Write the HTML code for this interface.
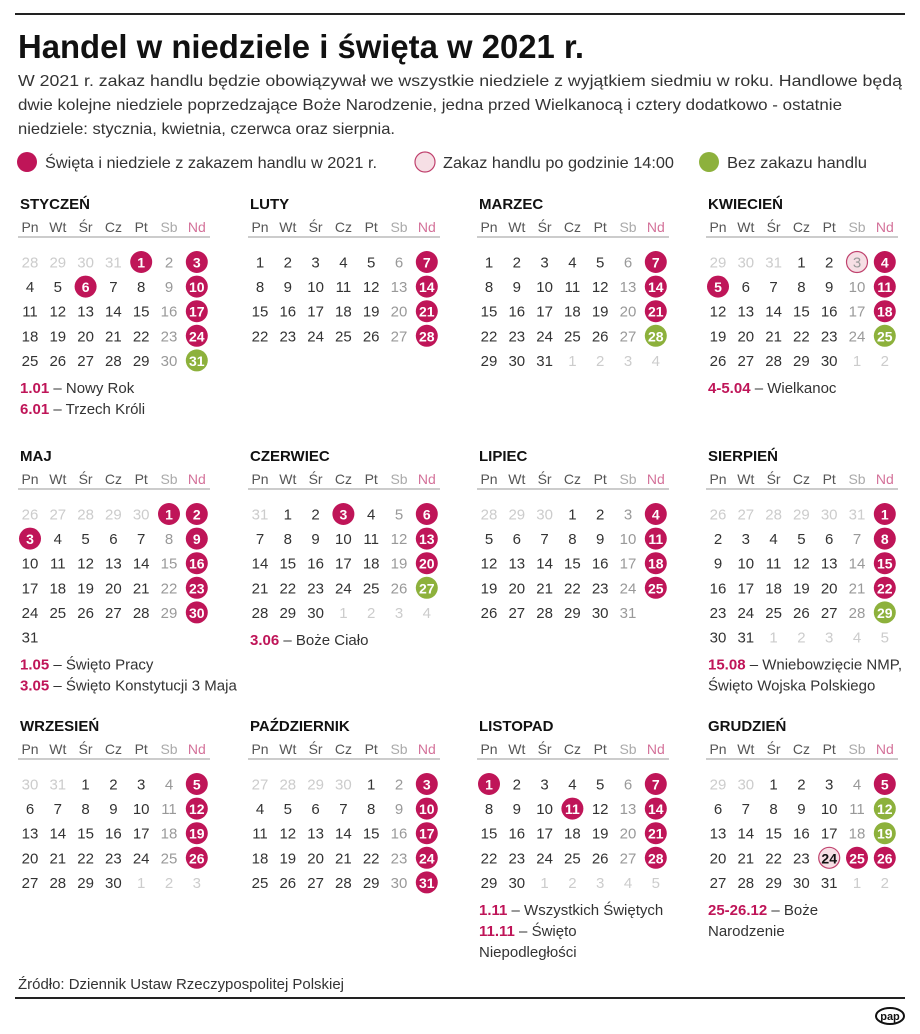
<!DOCTYPE html>
<html><head><meta charset="utf-8"><style>
body{margin:0;background:#fff}
svg{display:block;font-family:"Liberation Sans",sans-serif}
</style></head><body>
<svg id="s" width="920" height="1034" viewBox="0 0 920 1034">
<line x1="15" y1="14" x2="905" y2="14" stroke="#222" stroke-width="2"/>
<text x="18" y="58" font-size="33" font-weight="bold" fill="#111" textLength="566" lengthAdjust="spacingAndGlyphs">Handel w niedziele i święta w 2021 r.</text>
<g font-size="16" fill="#333">
<text x="18" y="86" textLength="884" lengthAdjust="spacingAndGlyphs">W 2021 r. zakaz handlu będzie obowiązywał we wszystkie niedziele z wyjątkiem siedmiu w roku. Handlowe będą</text>
<text x="18" y="110" textLength="824" lengthAdjust="spacingAndGlyphs">dwie kolejne niedziele poprzedzające Boże Narodzenie, jedna przed Wielkanocą i cztery dodatkowo - ostatnie</text>
<text x="18" y="134" textLength="377" lengthAdjust="spacingAndGlyphs">niedziele: stycznia, kwietnia, czerwca oraz sierpnia.</text>
</g>
<g font-size="16" fill="#333">
<circle cx="27" cy="162" r="10" fill="#bf1558"/>
<text x="45" y="168" textLength="332" lengthAdjust="spacingAndGlyphs">Święta i niedziele z zakazem handlu w 2021 r.</text>
<circle cx="425" cy="162" r="10" fill="#f6dfe5" stroke="#c0426e" stroke-width="1.2"/>
<text x="443" y="168" textLength="231" lengthAdjust="spacingAndGlyphs">Zakaz handlu po godzinie 14:00</text>
<circle cx="709" cy="162" r="10" fill="#8db13c"/>
<text x="727" y="168" textLength="140" lengthAdjust="spacingAndGlyphs">Bez zakazu handlu</text>
</g>
<g id="cal"></g>
<text x="18" y="989" font-size="15" fill="#333" textLength="326" lengthAdjust="spacingAndGlyphs">Źródło: Dziennik Ustaw Rzeczypospolitej Polskiej</text>
<line x1="15" y1="998" x2="905" y2="998" stroke="#222" stroke-width="2"/>
<g>
<ellipse cx="890" cy="1016" rx="14" ry="8" fill="#fff" stroke="#111" stroke-width="2"/>
<text x="890" y="1020" font-size="11" font-weight="bold" text-anchor="middle" fill="#111">pap</text>
</g>
</svg>
<script>
const monthNames=["STYCZEŃ","LUTY","MARZEC","KWIECIEŃ","MAJ","CZERWIEC","LIPIEC","SIERPIEŃ","WRZESIEŃ","PAŹDZIERNIK","LISTOPAD","GRUDZIEŃ"];
const firstOffset=[4,0,0,3,5,1,3,6,2,4,0,2];
const daysInMonth=[31,28,31,30,31,30,31,31,30,31,30,31];
const prevDays=[31,31,28,31,30,31,30,31,31,30,31,30];
const trailingShown=[0,0,4,2,0,4,0,5,3,0,5,2];
const redDays=[[1,3,6,10,17,24],[7,14,21,28],[7,14,21],[4,5,11,18],[1,2,3,9,16,23,30],[3,6,13,20],[4,11,18,25],[1,8,15,22],[5,12,19,26],[3,10,17,24,31],[1,7,11,14,21,28],[5,25,26]];
const greenDays=[[31],[],[28],[25],[],[27],[],[29],[],[],[],[12,19]];
const pinkDays=[[],[],[],[3],[],[],[],[],[],[],[],[24]];
const notes=[[["1.01"," – Nowy Rok"],["6.01"," – Trzech Króli"]],[],[],[["4-5.04"," – Wielkanoc"]],[["1.05"," – Święto Pracy"],["3.05"," – Święto Konstytucji 3 Maja"]],[["3.06"," – Boże Ciało"]],[],[["15.08"," – Wniebowzięcie NMP,"],[""," Święto Wojska Polskiego"]],[],[],[["1.11"," – Wszystkich Świętych"],["11.11"," – Święto"],[""," Niepodległości"]],[["25-26.12"," – Boże"],[""," Narodzenie"]]];
const dayNames=["Pn","Wt","Śr","Cz","Pt","Sb","Nd"];
const colX=[18,248,477,706];
const blockY=[203,455,725];
const NS="http://www.w3.org/2000/svg";
const root=document.getElementById('cal');
function mk(tag,attrs,parent,txt){const e=document.createElementNS(NS,tag);for(const k in attrs)e.setAttribute(k,attrs[k]);if(txt!==undefined)e.textContent=txt;parent.appendChild(e);return e;}
const RED="#bf1558",GREEN="#8db13c";
for(let m=0;m<12;m++){
  const x0=colX[m%4],y0=blockY[Math.floor(m/4)];
  const g=mk('g',{},root);
  
  
  const t=mk('text',{x:x0+2,y:y0+6,'font-size':15,'font-weight':'bold',fill:'#111'},g,monthNames[m]);
  
  
  const cx=i=>x0+12+i*27.8;
  dayNames.forEach((d,i)=>{const h=mk('text',{x:cx(i),y:y0+29,'font-size':14,'text-anchor':'middle',fill:i==6?'#d4729a':(i==5?'#aaa':'#555')},g,d);
    
    });
  mk('line',{x1:x0,y1:y0+34,x2:x0+192,y2:y0+34,stroke:'#ccc','stroke-width':2},g);
  const off=firstOffset[m],n=daysInMonth[m];
  const total=off+n+trailingShown[m];
  for(let k=0;k<total;k++){
    const col=k%7,row=Math.floor(k/7);
    const x=cx(col),y=y0+59+row*24.6;
    let label,kind='out';
    if(k<off){label=prevDays[m]-off+k+1;}
    else if(k<off+n){label=k-off+1;kind='in';}
    else{label=k-off-n+1;}
    let fill=kind=='out'?'#ccc':(col==5?'#999':'#333'),bold=false;
    if(kind=='in'){
      if(redDays[m].includes(label)){const c=mk('circle',{cx:x,cy:y,r:11,fill:RED},g);fill='#fff';bold=true;}
      else if(greenDays[m].includes(label)){const c=mk('circle',{cx:x,cy:y,r:11,fill:GREEN},g);fill='#fff';bold=true;}
      else if(pinkDays[m].includes(label)){const c=mk('circle',{cx:x,cy:y,r:10.5,fill:'#f6dfe5',stroke:'#c0426e','stroke-width':1.2},g);if(m==11){fill='#111';bold=true;}else{fill='#999';}}
    }
    const tx=mk('text',{x:x,y:y+5.5,'font-size':bold?14:15,'font-weight':bold?'bold':'normal','text-anchor':'middle',fill:fill},g,String(label));
    
    
  }
  const rows=Math.ceil(total/7);
  const ny=y0+59+rows*24.6+8;
  notes[m].forEach((nt,i)=>{
    const tt=mk('text',{x:x0+2,y:ny+i*21,'font-size':15,fill:'#333'},g);
    
    
    if(nt[0])mk('tspan',{fill:RED,'font-weight':'bold'},tt,nt[0]);
    mk('tspan',{},tt,nt[0]?nt[1]:nt[1].trim());
  });
}
</script>
</body></html>
